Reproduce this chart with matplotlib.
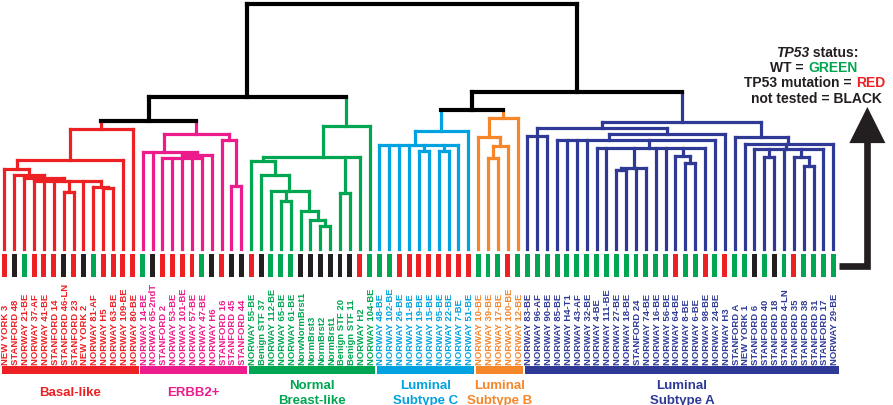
import matplotlib
matplotlib.use("Agg")
import matplotlib.pyplot as plt

plt.rcParams['font.family'] = ['Liberation Sans', 'DejaVu Sans']

# sample order along the tree (left to right)
samples = [
    # Basal-like
    "NEW YORK 3", "STANFORD 48", "NORWAY 21-BE", "NORWAY 37-AF", "NORWAY 41-BE",
    "STANFORD 14", "STANFORD 46-LN", "STANFORD 23", "NEW YORK 2", "NORWAY 81-AF",
    "NORWAY H5", "NORWAY 63-BE", "NORWAY 109-BE", "NORWAY 80-BE",
    # ERBB2+
    "NORWAY 14-BE", "NORWAY 65-2ndT", "STANFORD 2", "NORWAY 53-BE", "NORWAY 101-BE",
    "NORWAY 57-BE", "NORWAY 47-BE", "NORWAY H6", "STANFORD 16", "STANFORD 45",
    "STANFORD 44",
    # Normal Breast-like
    "NORWAY 55-BE", "Benign STF 37", "NORWAY 112-BE", "NORWAY 65-BE", "NORWAY 61-BE",
    "NorwNormBrst1", "NormBrst3", "NormBrst2", "NormBrst1", "Benign STF 20",
    "Benign STF 11", "NORWAY H2", "NORWAY 104-BE",
    # Luminal Subtype C
    "NORWAY 48-BE", "NORWAY 102-BE", "NORWAY 26-BE", "NORWAY 11-BE", "NORWAY 19-BE",
    "NORWAY 15-BE", "NORWAY 95-BE", "NORWAY 22-BE", "NORWAY 7-BE", "NORWAY 51-BE",
    # Luminal Subtype B
    "NORWAY 10-BE", "NORWAY 39-BE", "NORWAY 17-BE", "NORWAY 100-BE", "NORWAY 12-BE",
    # Luminal Subtype A
    "NORWAY 83-BE", "NORWAY 96-AF", "NORWAY 90-BE", "NORWAY 85-BE", "NORWAY H4-T1",
    "NORWAY 43-AF", "NORWAY 32-BE", "NORWAY 4-BE", "NORWAY 111-BE", "NORWAY 27-BE",
    "NORWAY 18-BE", "STANFORD 24", "NORWAY 74-BE", "NORWAY 16-BE", "NORWAY 56-BE",
    "NORWAY 64-BE", "NORWAY 8-BE", "NORWAY 6-BE", "NORWAY 98-BE", "NORWAY 24-BE",
    "NORWAY H3", "STANFORD A", "NEW YORK 1", "STANFORD 6", "STANFORD 40",
    "STANFORD 18", "STANFORD 4-LN", "STANFORD 35", "STANFORD 38", "STANFORD 31",
    "STANFORD 17", "NORWAY 29-BE",
]

# TP53 status per sample: W = wild type, M = mutation, N = not tested
tp53 = ("MNWMMMNMNWMMMM"
        "WNMMMMWNMNN"
        "MNWWWNNNNNNMW"
        "WWMMMMMMMM"
        "WWWMW"
        "WWWWWWWWWWWWWWWMWWMWMWWNWNWMWWWW")

subtypes = ["Basal-like", "ERBB2+", "Normal\nBreast-like",
            "Luminal\nSubtype C", "Luminal\nSubtype B", "Luminal\nSubtype A"]
subtype_sizes = [14, 11, 13, 10, 5, 32]
subtype_colors = ["#ED2024", "#EC1C8C", "#00A651", "#00A3E0", "#F5862A", "#2E3A96"]

status_colors = {"W": "#00A651", "M": "#ED2024", "N": "#231F20"}

# trees: (merge height, [children]); ints are sample positions
basal_tree = (120, [(89, [(80, [0, (74, [1, (71, [2, (68, [3, 4, 5, (57, [6, 7]), 8,
                                                            (62, [9, (61, [10, 11])])])])])]),
                         12]), 13])
erbb2_tree = (114.7, [(97.3, [14, 15, (94, [(90.7, [16, 17, 18, 19, 20]), 21])]),
                      (109, [22, (63.3, [23, 24])])])
normal_tree = (122.7, [(92.5, [(88.3, [25, (74, [26, (57.7, [27, (48.3, [28, 29]),
                                                        (37.7, [30, (29.3, [31, (22.7, [32, 33])])])])])]),
                               (55.7, [34, 35]), 36]), 37])
lumc_tree = (117.7, [(104, [38, 39, 40, 41, (98.3, [42, 43]), (98.3, [44, 45]), 46]), 47])
lumb_tree = (130.7, [(111.7, [48, (102.7, [(90.7, [49, 50]), 51])]), 52])
luma_tree = (126.7, [
    (120.7, [(112.7, [53, 54, 55]),
             (115, [(109, [56, 57, 58, 59,
                           (101, [60, 61, (81, [(79.3, [62, 63]), 64, 65]), 66, 67,
                                  (93.3, [68, (85.7, [69, 70])]), 71]),
                           72]), 73])]),
    (111.7, [74, (105, [75, (100, [76, (91.7, [77, 78]), 79,
                                   (91.7, [80, (82.7, [81, 82])]), 83]), 84])]),
])
subtype_trees = [basal_tree, erbb2_tree, normal_tree, lumc_tree, lumb_tree, luma_tree]

# upper tree joins the subtype clusters (by subtype number)
top_tree = (245, [(152.3, [(127.7, ["s0", "s1"]), "s2"]),
                  (157.3, [(139.3, ["s3", "s4"]), "s5"])])

leaf_color = []
for c, n in zip(subtype_colors, subtype_sizes):
    leaf_color += [c] * n

fig = plt.figure(figsize=(8.93, 4.06), dpi=100)
ax = fig.add_axes([0, 0, 1, 1])
ax.set_xlim(-0.456, 90.05)
ax.set_ylim(-156, 250)
ax.axis("off")


def draw(node, color, lw):
    if isinstance(node, str):
        k = int(node[1:])
        return draw(subtype_trees[k], subtype_colors[k], 2.3)
    if isinstance(node, int):
        return node, 0, leaf_color[node], 2.3
    h, kids = node
    xs = []
    for kid in kids:
        kx, kh, kc, klw = draw(kid, color, lw)
        ax.plot([kx, kx], [kh, h], color=kc, lw=klw, solid_capstyle="projecting")
        xs.append(kx)
    ax.plot([min(xs), max(xs)], [h, h], color=color, lw=lw, solid_capstyle="projecting")
    return sum(xs) / len(xs), h, color, lw


draw(top_tree, "#000000", 3.0)

idx = list(range(len(samples)))
ax.bar(idx, 23, bottom=-28, width=0.5, color=[status_colors[s] for s in tp53])

for i, name in enumerate(samples):
    ax.text(i + 0.15, -115, name, rotation=90, ha="center", va="bottom",
            fontsize=6.8, fontweight="bold", color=leaf_color[i])

start = 0
for name, n, c in zip(subtypes, subtype_sizes, subtype_colors):
    left, right = start - 0.25, start + n - 1 + 0.6
    ax.bar(left, 8, width=right - left, bottom=-125, align="edge", color=c)
    ax.text((left + right) / 2, -143.5, name, ha="center", va="center",
            fontsize=9.5, fontweight="bold", color=c, linespacing=1.3)
    start += n

# arrow from the status row up to the legend
ax.plot([84.55, 87.45, 87.45], [-17, -17, 120], color="#231F20", lw=4.8,
        solid_joinstyle="miter", solid_capstyle="butt")
ax.annotate("", xy=(87.45, 142), xytext=(87.45, 116),
            arrowprops=dict(arrowstyle="-|>,head_length=1.0,head_width=0.5",
                            mutation_scale=26, color="#231F20", lw=0,
                            shrinkA=0, shrinkB=0))

# legend text
W, H = 893.0, 406.0
kw = dict(fontsize=10, fontweight="bold", color="#231F20", va="center")
fig.text(809 / W, 1 - 53 / H, "TP53", ha="right", style="italic", **kw)
fig.text(809 / W, 1 - 53 / H, " status:", ha="left", **kw)
fig.text(808 / W, 1 - 68 / H, "WT = ", ha="right", **kw)
fig.text(808 / W, 1 - 68 / H, "GREEN", ha="left", **{**kw, "color": "#00A651"})
fig.text(856 / W, 1 - 83 / H, "TP53 mutation = ", ha="right", **kw)
fig.text(856 / W, 1 - 83 / H, "RED", ha="left", **{**kw, "color": "#ED2024"})
fig.text(816 / W, 1 - 99 / H, "not tested = BLACK", ha="center", **kw)

fig.savefig("out.png", dpi=100)
